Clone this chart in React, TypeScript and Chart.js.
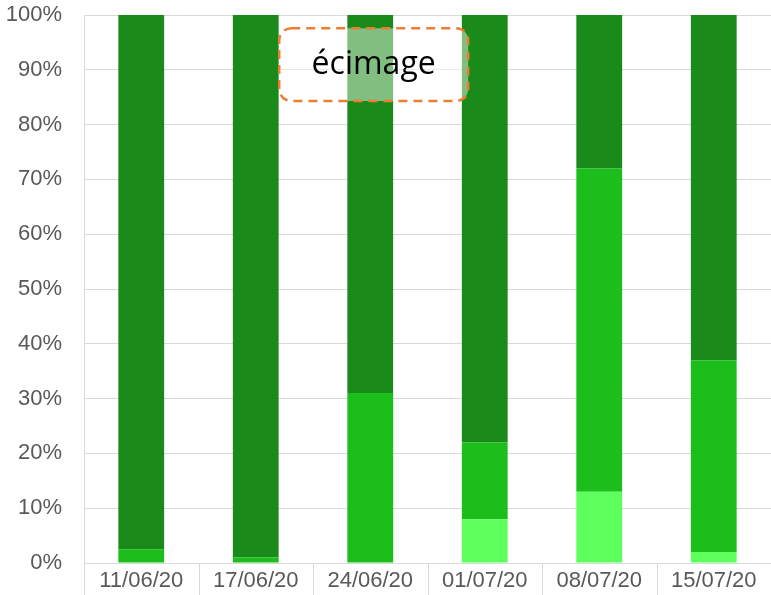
import React, { useEffect, useRef } from "react";
import { Chart, registerables } from "chart.js";

Chart.register(...registerables);

const categories = ["11/06/20", "17/06/20", "24/06/20", "01/07/20", "08/07/20", "15/07/20"];
const lightSeries = [0, 0, 0, 8, 13, 2];
const mediumSeries = [2.5, 1, 31, 14, 59, 35];
const darkSeries = [97.5, 99, 69, 78, 28, 63];
const yTicks = [0, 10, 20, 30, 40, 50, 60, 70, 80, 90, 100];
const annotationText = "écimage";

const separatorPlugin = {
  id: "separators",
  afterDraw(chart: any) {
    const { ctx, chartArea } = chart;
    const xs = chart.scales.x;
    const n = categories.length;
    const half = (xs.getPixelForValue(1) - xs.getPixelForValue(0)) / 2;
    ctx.save();
    ctx.strokeStyle = "#d9d9d9";
    ctx.lineWidth = 1;
    ctx.beginPath();
    for (let i = 1; i < n; i++) {
      const x = Math.round(xs.getPixelForValue(i) - half) + 0.5;
      ctx.moveTo(x, chartArea.bottom);
      ctx.lineTo(x, chart.height);
    }
    const lx = Math.round(chartArea.left) + 0.5;
    ctx.moveTo(lx, chartArea.top);
    ctx.lineTo(lx, chart.height);
    ctx.stroke();
    ctx.restore();
  },
};

const annotationPlugin = {
  id: "ecimage",
  afterDatasetsDraw(chart: any) {
    const { ctx } = chart;
    const xs = chart.scales.x;
    const ys = chart.scales.y;
    const x1 = xs.getPixelForValue(1.205);
    const x2 = xs.getPixelForValue(2.855);
    const y1 = ys.getPixelForValue(97.6);
    const y2 = ys.getPixelForValue(84.3);
    ctx.save();
    ctx.beginPath();
    ctx.roundRect(x1, y1, x2 - x1, y2 - y1, 12);
    ctx.fillStyle = "rgba(255,255,255,0.45)";
    ctx.fill();
    ctx.setLineDash([9, 6]);
    ctx.lineWidth = 2.5;
    ctx.strokeStyle = "#ED7D31";
    ctx.stroke();
    ctx.setLineDash([]);
    ctx.fillStyle = "#000000";
    ctx.font = '32px "Open Sans", "Liberation Sans", sans-serif';
    ctx.textAlign = "center";
    ctx.textBaseline = "middle";
    ctx.fillText(annotationText, (x1 + x2) / 2, (y1 + y2) / 2);
    ctx.restore();
  },
};

export default function App() {
  const canvasRef = useRef<HTMLCanvasElement>(null);

  useEffect(() => {
    if (!canvasRef.current) return;
    const chart = new Chart(canvasRef.current, {
      type: "bar",
      data: {
        labels: categories,
        datasets: [
          { label: "light", data: lightSeries, backgroundColor: "#5CFF5C", barPercentage: 0.4, categoryPercentage: 1 },
          { label: "medium", data: mediumSeries, backgroundColor: "#1BBE1B", barPercentage: 0.4, categoryPercentage: 1 },
          { label: "dark", data: darkSeries, backgroundColor: "#1A8A1A", barPercentage: 0.4, categoryPercentage: 1 },
        ],
      },
      options: {
        animation: false,
        responsive: false,
        maintainAspectRatio: false,
        layout: { padding: { top: 15, right: 0, bottom: 0, left: 0 } },
        plugins: {
          legend: { display: false },
          tooltip: { enabled: false },
        },
        scales: {
          x: {
            stacked: true,
            grid: { display: false, drawTicks: false },
            border: { display: true, color: "#d9d9d9" },
            ticks: {
              color: "#595959",
              font: { family: '"Liberation Sans", Arial, sans-serif', size: 22 },
              padding: 5,
              maxRotation: 0,
            },
            afterFit(scale: any) {
              scale.height = 32;
              scale.paddingLeft = 0;
              scale.paddingRight = 0;
            },
          },
          y: {
            stacked: true,
            min: 0,
            max: 100,
            afterBuildTicks(scale: any) {
              scale.ticks = yTicks.map((v) => ({ value: v }));
            },
            grid: { color: "#d9d9d9", drawTicks: false },
            border: { display: true, color: "#d9d9d9" },
            ticks: {
              color: "#595959",
              font: { family: '"Liberation Sans", Arial, sans-serif', size: 22 },
              padding: 22,
              callback: (v: any) => v + "%",
            },
            afterFit(scale: any) {
              scale.width = 84;
              scale.paddingTop = 0;
              scale.paddingBottom = 0;
            },
          },
        },
      },
      plugins: [separatorPlugin, annotationPlugin],
    });
    return () => chart.destroy();
  }, []);

  return (
    <div style={{ position: "fixed", left: 0, top: 0, width: 771, height: 595, background: "#fff" }}>
      <canvas ref={canvasRef} width={771} height={595} style={{ width: 771, height: 595 }} />
    </div>
  );
}
